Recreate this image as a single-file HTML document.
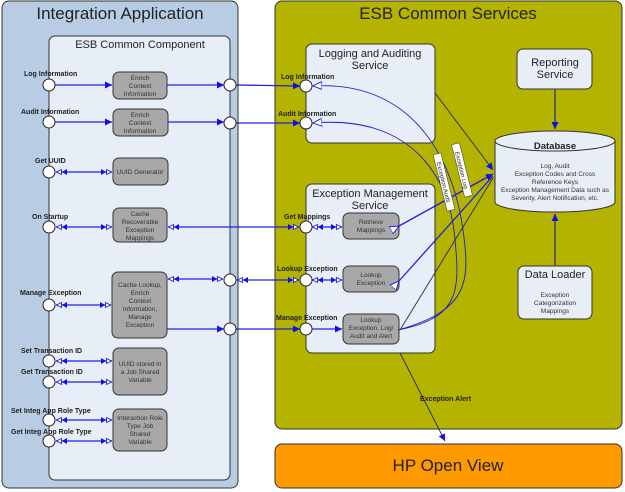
<!DOCTYPE html>
<html><head><meta charset="utf-8"><style>
html,body{margin:0;padding:0;background:#fff;width:625px;height:492px;overflow:hidden}
svg{display:block;font-family:"Liberation Sans",Arial,sans-serif}
.b{font-size:7px;font-weight:bold;fill:#222}
.s{font-size:6.5px;fill:#333;text-anchor:middle}
.t{font-size:11px;fill:#222;text-anchor:middle}
.c{fill:#fff;stroke:#222;stroke-width:1}
.g{fill:#a8a8a8;stroke:#333;stroke-width:1}
.w{fill:#e8eef8;stroke:#333;stroke-width:1}
.l{stroke:#2020e0;stroke-width:1.3;fill:none}
.k{stroke:#222a5a;stroke-width:0.9;fill:none}
</style></head><body>
<svg width="625" height="492" viewBox="0 0 625 492">
<defs>
<marker id="fa" markerWidth="8" markerHeight="8" refX="7" refY="4" orient="auto" markerUnits="userSpaceOnUse"><path d="M0,0.5 L7,4 L0,7.5z" fill="#1010e0"/></marker>
<marker id="da" markerWidth="12" markerHeight="8" refX="11" refY="4" orient="auto" markerUnits="userSpaceOnUse"><path d="M0,1 L5,4 L0,7z" fill="#1010e0"/><path d="M5.5,1.5 L10.5,4 L5.5,6.5z" fill="#fff" stroke="#1010e0" stroke-width="0.8"/></marker>
<marker id="ds" markerWidth="12" markerHeight="8" refX="11" refY="4" orient="auto-start-reverse" markerUnits="userSpaceOnUse"><path d="M0,1 L5,4 L0,7z" fill="#1010e0"/><path d="M5.5,1.5 L10.5,4 L5.5,6.5z" fill="#fff" stroke="#1010e0" stroke-width="0.8"/></marker>
<marker id="oa" markerWidth="10" markerHeight="10" refX="9" refY="5" orient="auto" markerUnits="userSpaceOnUse"><path d="M0,1 L9,5 L0,9z" fill="#fff" stroke="#1010e0" stroke-width="0.9"/></marker>
<marker id="ga" markerWidth="8" markerHeight="8" refX="7" refY="4" orient="auto" markerUnits="userSpaceOnUse"><path d="M0,0.5 L7,4 L0,7.5z" fill="#1010e0"/></marker>
</defs>

<rect x="2" y="1" width="236" height="487" rx="7" fill="#b8cce4" stroke="#333" stroke-width="1"/>
<text x="120" y="19" font-size="17" text-anchor="middle" fill="#222">Integration Application</text>
<rect x="49" y="36" width="181" height="444" rx="6" fill="#e8eef8" stroke="#333" stroke-width="1"/>
<text x="140" y="48" class="t">ESB Common Component</text>

<rect x="275" y="1" width="347" height="428" rx="7" fill="#b3b300" stroke="#333" stroke-width="1"/>
<text x="448" y="19" font-size="17" text-anchor="middle" fill="#222">ESB Common Services</text>

<rect x="275" y="444" width="347" height="44" rx="7" fill="#ff9900" stroke="#333" stroke-width="1"/>
<text x="448" y="471" font-size="17" text-anchor="middle" fill="#222">HP Open View</text>

<rect x="306" y="44" width="129" height="99" rx="6" class="w"/>
<text x="370" y="57" class="t">Logging and Auditing</text>
<text x="370" y="69" class="t">Service</text>

<rect x="306" y="184" width="129" height="169" rx="6" class="w"/>
<text x="370" y="197" class="t">Exception Management</text>
<text x="370" y="209" class="t">Service</text>
<rect x="343" y="213" width="56" height="26" rx="6" class="g"/>
<text x="371" y="224" class="s">Retrieve</text><text x="371" y="232" class="s">Mappings</text>
<rect x="343" y="266" width="56" height="26" rx="6" class="g"/>
<text x="371" y="277" class="s">Lookup</text><text x="371" y="285" class="s">Exception</text>
<rect x="343" y="314" width="56" height="30" rx="6" class="g"/>
<text x="371" y="322" class="s">Lookup</text><text x="371" y="330" class="s">Exception, Log/</text><text x="371" y="338" class="s">Audit and Alert</text>

<rect x="517" y="49" width="75" height="40" rx="6" class="w"/>
<text x="555" y="66" class="t">Reporting</text><text x="555" y="78" class="t">Service</text>
<line x1="555" y1="89" x2="555" y2="129" stroke="#555" stroke-width="1.8" marker-end="url(#ga)"/>

<path d="M495,141 L495,202 A60,10 0 0 0 615,202 L615,141" fill="#e8eef8" stroke="#333"/>
<ellipse cx="555" cy="141" rx="60" ry="10" fill="#e8eef8" stroke="#333"/>
<text x="555" y="149" font-size="9.5" font-weight="bold" text-anchor="middle" fill="#222">Database</text>
<text x="555" y="168" class="s">Log, Audit</text>
<text x="555" y="176" class="s">Exception Codes and Cross</text>
<text x="555" y="184" class="s">Reference Keys</text>
<text x="555" y="192" class="s">Exception Management Data such as</text>
<text x="555" y="200" class="s">Severity, Alert Notification, etc.</text>

<rect x="518" y="266" width="74" height="53" rx="6" class="w"/>
<text x="555" y="278" class="t">Data Loader</text>
<text x="555" y="297" class="s">Exception</text><text x="555" y="305" class="s">Categorization</text><text x="555" y="313" class="s">Mappings</text>
<line x1="555" y1="266" x2="555" y2="214" stroke="#555" stroke-width="1.8" marker-end="url(#ga)"/>

<rect x="113" y="72" width="54" height="27" rx="6" class="g"/>
<text x="140" y="80" class="s">Enrich</text><text x="140" y="88" class="s">Context</text><text x="140" y="96" class="s">Information</text>
<rect x="113" y="109" width="55" height="27" rx="6" class="g"/>
<text x="140" y="117" class="s">Enrich</text><text x="140" y="125" class="s">Context</text><text x="140" y="133" class="s">Information</text>
<rect x="113" y="158" width="55" height="27" rx="6" class="g"/>
<text x="140" y="174" class="s">UUID Generator</text>
<rect x="113" y="208" width="54" height="34" rx="6" class="g"/>
<text x="140" y="216" class="s">Cache</text><text x="140" y="224" class="s">Recoverable</text><text x="140" y="232" class="s">Exception</text><text x="140" y="240" class="s">Mappings</text>
<rect x="112" y="272" width="55" height="66" rx="6" class="g"/>
<text x="140" y="287" class="s">Cache Lookup,</text><text x="140" y="295" class="s">Enrich</text><text x="140" y="303" class="s">Context</text><text x="140" y="311" class="s">Information,</text><text x="140" y="319" class="s">Manage</text><text x="140" y="327" class="s">Exception</text>
<rect x="113" y="348" width="54" height="47" rx="6" class="g"/>
<text x="140" y="366" class="s">UUID stored in</text><text x="140" y="374" class="s">a Job Shared</text><text x="140" y="382" class="s">Variable</text>
<rect x="113" y="409" width="54" height="42" rx="6" class="g"/>
<text x="140" y="420" class="s">Interaction Role</text><text x="140" y="428" class="s">Type Job</text><text x="140" y="436" class="s">Shared</text><text x="140" y="444" class="s">Variable</text>

<line x1="55" y1="85" x2="112" y2="85" class="l" marker-end="url(#fa)"/>
<line x1="167" y1="85" x2="224" y2="85" class="l" marker-end="url(#fa)"/>
<line x1="55" y1="122" x2="112" y2="122" class="l" marker-end="url(#fa)"/>
<line x1="168" y1="122" x2="224" y2="122" class="l" marker-end="url(#fa)"/>
<line x1="56" y1="172" x2="112" y2="172" class="l" marker-start="url(#ds)" marker-end="url(#da)"/>
<line x1="56" y1="227" x2="112" y2="227" class="l" marker-start="url(#ds)" marker-end="url(#da)"/>
<line x1="168" y1="227" x2="299" y2="227" class="l" marker-start="url(#ds)" marker-end="url(#da)"/>
<line x1="56" y1="305" x2="111" y2="305" class="l" marker-start="url(#ds)" marker-end="url(#da)"/>
<line x1="168" y1="279" x2="223" y2="279" class="l" marker-start="url(#ds)" marker-end="url(#da)"/>
<line x1="237" y1="280" x2="299" y2="280" class="l" marker-start="url(#ds)" marker-end="url(#da)"/>
<line x1="167" y1="329" x2="224" y2="329" class="l" marker-end="url(#fa)"/>
<line x1="56" y1="361" x2="112" y2="361" class="l" marker-start="url(#ds)" marker-end="url(#da)"/>
<line x1="56" y1="382" x2="112" y2="382" class="l" marker-start="url(#ds)" marker-end="url(#da)"/>
<line x1="56" y1="420" x2="112" y2="420" class="l" marker-start="url(#ds)" marker-end="url(#da)"/>
<line x1="56" y1="441" x2="112" y2="441" class="l" marker-start="url(#ds)" marker-end="url(#da)"/>
<line x1="236" y1="85" x2="300" y2="86" class="l" marker-end="url(#fa)"/>
<line x1="236" y1="123" x2="300" y2="123" class="l" marker-end="url(#fa)"/>
<line x1="236" y1="329" x2="300" y2="329" class="l" marker-end="url(#fa)"/>
<line x1="312" y1="227" x2="342" y2="227" class="l" marker-start="url(#ds)" marker-end="url(#da)"/>
<line x1="312" y1="280" x2="342" y2="280" class="l" marker-start="url(#ds)" marker-end="url(#da)"/>
<line x1="312" y1="329" x2="342" y2="329" class="l" marker-end="url(#fa)"/>

<path d="M398,330 C470,310 470,280 463,230 C455,170 420,80 313,86" stroke="#2020c0" stroke-width="0.9" fill="none" marker-end="url(#oa)"/>
<path d="M398,330 C460,318 460,290 455,240 C450,175 410,115 313,123" stroke="#2020c0" stroke-width="0.9" fill="none" marker-end="url(#oa)"/>
<line x1="435" y1="93" x2="493" y2="170" class="k" marker-end="url(#fa)"/>
<line x1="399" y1="226" x2="493" y2="174" class="l" stroke-width="0.9" marker-start="url(#oa)" marker-end="url(#fa)"/>
<line x1="399" y1="281" x2="493" y2="176" class="l" stroke-width="0.9" marker-start="url(#oa)"/>
<line x1="400" y1="330" x2="493" y2="178" class="k"/>
<line x1="400" y1="353" x2="445" y2="441" class="k" stroke="#222a8a" marker-end="url(#fa)"/>
<text x="420" y="401" class="b">Exception Alert</text>

<g transform="translate(462,170) rotate(76)"><rect x="-27" y="-4" width="54" height="8" fill="#fff" stroke="#333" stroke-width="0.5"/><text x="0" y="2.5" font-size="6" text-anchor="middle" fill="#222">Exception Log</text></g>
<g transform="translate(444,182) rotate(76)"><rect x="-29" y="-4" width="58" height="8" fill="#fff" stroke="#333" stroke-width="0.5"/><text x="0" y="2.5" font-size="6" text-anchor="middle" fill="#222">Exception Audit</text></g>

<circle cx="49" cy="85" r="6" class="c"/><circle cx="49" cy="122" r="6" class="c"/>
<circle cx="49" cy="172" r="6" class="c"/><circle cx="49" cy="227" r="6" class="c"/>
<circle cx="49" cy="305" r="6" class="c"/><circle cx="49" cy="361" r="6" class="c"/>
<circle cx="49" cy="382" r="6" class="c"/><circle cx="49" cy="420" r="6" class="c"/>
<circle cx="49" cy="441" r="6" class="c"/>
<circle cx="230" cy="85" r="6" class="c"/><circle cx="230" cy="123" r="6" class="c"/>
<circle cx="230" cy="280" r="6" class="c"/><circle cx="230" cy="329" r="6" class="c"/>
<circle cx="306" cy="86" r="6" class="c"/><circle cx="306" cy="123" r="6" class="c"/>
<circle cx="306" cy="227" r="6" class="c"/><circle cx="306" cy="280" r="6" class="c"/>
<circle cx="306" cy="329" r="6" class="c"/>

<text x="24" y="76" class="b">Log Information</text>
<text x="21" y="114" class="b">Audit Information</text>
<text x="35" y="163" class="b">Get UUID</text>
<text x="32" y="219" class="b">On Startup</text>
<text x="20" y="295" class="b">Manage Exception</text>
<text x="21" y="353" class="b">Set Transaction ID</text>
<text x="21" y="374" class="b">Get Transaction ID</text>
<text x="11" y="413" class="b">Set Integ App Role Type</text>
<text x="11" y="434" class="b">Get Integ App Role Type</text>
<text x="281" y="79" class="b">Log Information</text>
<text x="278" y="116" class="b">Audit Information</text>
<text x="284" y="219" class="b">Get Mappings</text>
<text x="277" y="271" class="b">Lookup Exception</text>
<text x="276" y="320" class="b">Manage Exception</text>
</svg>
</body></html>
